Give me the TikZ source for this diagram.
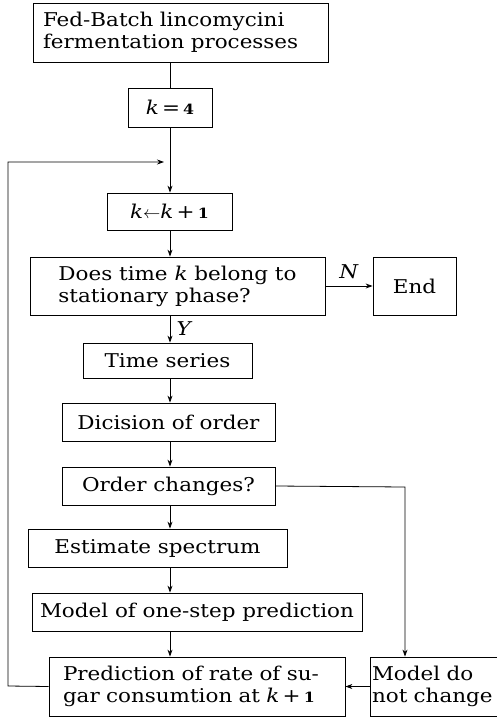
\documentclass[tikz,border=0pt]{standalone}
\usepackage{fontspec}
\setmainfont{DejaVu Serif}[FakeStretch=1.13]
\usetikzlibrary{arrows.meta}

\newcommand{\kvar}{\textit{k}}
\newcommand{\numsmall}[1]{{\fontsize{14}{16}\selectfont\bfseries #1}}

\begin{document}
\begin{tikzpicture}
    [x=1pt, y=-1pt,
    every node/.style={font=\fontsize{19}{22}\selectfont},
    box/.style={draw, line width=0.8pt, inner sep=0pt, align=left},
    flow/.style={line width=0.8pt, -{Stealth[length=7pt,width=5pt]}},
    link/.style={line width=0.8pt}
    ]

    \useasboundingbox (0,0) rectangle (496,717);

    \node[box, minimum height=59pt, inner xsep=10pt, text width=275pt] (batch) at (180.5,32.5) {Fed-Batch lincomycini\\fermentation processes};
    \node[box, minimum width=84pt,  minimum height=39pt] (k4)    at (170,107.5) {\kvar\,=\,\numsmall{4}};
    \node[box, minimum width=125pt, minimum height=37pt] (inc)   at (169.5,211.5) {\kvar$\leftarrow$\kvar\,+\,\numsmall{1}};
    \node[box, minimum width=295pt, minimum height=58pt] (stat)  at (177.5,286) {Does time \kvar{} belong to\\stationary phase?};
    \node[box, minimum width=83pt,  minimum height=58pt] (endbox) at (414.5,286) {End};
    \node[box, minimum width=169pt, minimum height=35pt] (ts)    at (167.5,360.5) {Time series};
    \node[box, minimum width=213pt, minimum height=38pt] (dic)   at (168.5,422) {Dicision of order};
    \node[box, minimum width=213pt, minimum height=38pt] (oc)    at (168.5,486) {Order changes?};
    \node[box, minimum width=259pt, minimum height=38pt] (est)   at (157.5,548) {Estimate spectrum};
    \node[box, minimum width=330pt, minimum height=38pt] (mod)   at (197,612) {Model of one-step prediction};
    \node[box, minimum height=59pt, inner xsep=14pt, text width=268pt] (pred) at (197,686.5) {Prediction of rate of su-\\gar consumtion at \kvar\,+\,\numsmall{1}};
    \node[box, minimum height=59pt, inner xsep=2pt, text width=123pt] (nochg) at (433.5,686.5) {Model do\\not change};

    \coordinate (axis)  at (170,0);
    \coordinate (merge) at (170,162);
    \coordinate (back)  at (8,686);
    \coordinate (turn)  at (405,487);

    \draw [link] (axis |- batch.south) -- (axis |- k4.north);
    \draw [link] (axis |- k4.south) -- (merge);
    \draw [flow] (merge) -- (axis |- inc.north);
    \draw [flow] (axis |- inc.south) -- (axis |- stat.north);
    \draw [flow] (axis |- stat.south) -- node [right=3pt] {\textit{Y}} (axis |- ts.north);
    \draw [flow] (axis |- ts.south) -- (axis |- dic.north);
    \draw [flow] (axis |- dic.south) -- (axis |- oc.north);
    \draw [flow] (axis |- oc.south) -- (axis |- est.north);
    \draw [flow] (axis |- est.south) -- (axis |- mod.north);
    \draw [flow] (axis |- mod.south) -- (axis |- pred.north);

    \draw [flow] (stat.east) -- node [above=4pt] {\textit{N}} (stat.east -| endbox.west);
    \draw [flow] (oc.east) -- (turn) -- (turn |- nochg.north);
    \draw [flow] (nochg.west) -- (nochg.west -| pred.east);
    \draw [flow] (pred.west) -- (back) |- ([xshift=-6pt]merge);
  \end{tikzpicture}
\end{document}
